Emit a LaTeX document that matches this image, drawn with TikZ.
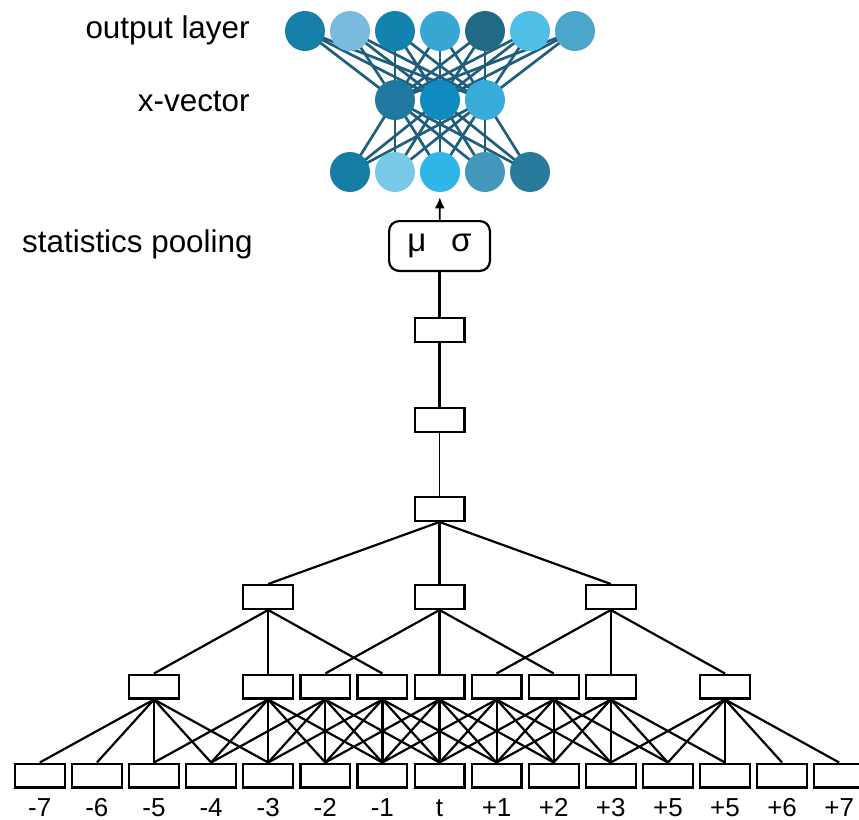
\documentclass[tikz,border=0pt]{standalone}
\usepackage{fontspec}
\setmainfont{Liberation Sans}
\usepackage{tikz}
\usetikzlibrary{arrows.meta,positioning,backgrounds}
\definecolor{synblue}{HTML}{1F5E7D}
\definecolor{oc1}{HTML}{177EA8}
\definecolor{oc2}{HTML}{7ABADE}
\definecolor{oc3}{HTML}{1482AF}
\definecolor{oc4}{HTML}{37A6D3}
\definecolor{oc5}{HTML}{216A86}
\definecolor{oc6}{HTML}{50BFE7}
\definecolor{oc7}{HTML}{4CA6C9}
\definecolor{xc1}{HTML}{1E78A0}
\definecolor{xc2}{HTML}{108BBF}
\definecolor{xc3}{HTML}{38ABDB}
\definecolor{bc1}{HTML}{167DA7}
\definecolor{bc2}{HTML}{78C9E8}
\definecolor{bc3}{HTML}{2FB5E7}
\definecolor{bc4}{HTML}{4297BA}
\definecolor{bc5}{HTML}{297B9C}

\begin{document}
\begin{tikzpicture}[
    x=0.5pt, y=-0.5pt,
    every node/.style={font=\fontsize{15.7}{18}\selectfont},
    frame/.style={draw, line width=1.1pt, minimum width=24.9pt, minimum height=11.9pt, inner sep=0pt},
    pooling/.style={draw, line width=1.1pt, rounded corners=5pt, minimum width=50.4pt, minimum height=24.9pt, inner sep=0pt},
    neuron/.style={circle, minimum size=20pt, inner sep=0pt},
    tap/.style={line width=1.1pt},
    synapse/.style={draw=synblue, line width=1.35pt},
    tick/.style={anchor=base, inner sep=0pt, font=\fontsize{13}{15}\selectfont},
    side/.style={anchor=base east, inner sep=0pt}
]
\useasboundingbox (0,0) rectangle (859,820);

% Input frames
\foreach \i/\t in {1/-7,2/-6,3/-5,4/-4,5/-3,6/-2,7/-1,8/t,9/+1,10/+2,11/+3,12/+5,13/+5,14/+6,15/+7} {
    \node (in\i) [frame] at ({439.5+(\i-8)*57.1},775.5) {};
    \node (lab\i) [tick] at ({439.5+(\i-8)*57.1},816) {\t};
}

% First layer (context -2..+2)
\foreach \i in {3,5,6,7,8,9,10,11,13} {
    \node (h\i) [frame] at ({439.5+(\i-8)*57.1},686.5) {};
    \foreach \d in {-2,...,2} {
        \pgfmathtruncatemacro\j{\i+\d}
        \draw [tap] (h\i.south) -- (in\j.north);
    }
}

% Second layer (context -2,0,+2)
\foreach \i in {5,8,11} {
    \node (g\i) [frame] at ({439.5+(\i-8)*57.1},597) {};
    \foreach \d in {-2,0,2} {
        \pgfmathtruncatemacro\j{\i+\d}
        \draw [tap] (g\i.south) -- (h\j.north);
    }
}

% Frame-level stack
\node (s1) [frame] at (439.5,509) {};
\node (s2) [frame] at (439.5,420) {};
\node (s3) [frame] at (439.5,330) {};
\foreach \i in {5,8,11}
    \draw [tap] (s1.south) -- (g\i.north);
\draw [line width=0.9pt] (s1) -- (s2);
\draw [line width=1.4pt] (s2) -- (s3);

% Pooling
\node (pool) [pooling, font=\fontsize{16.5}{18}\selectfont] at (439.5,246) {μ\hspace{0.75em}σ};
\draw [line width=1.4pt] (s3) -- (pool);

% Segment-level network
\foreach \i/\c in {1/bc1,2/bc2,3/bc3,4/bc4,5/bc5}
    \node (b\i) [neuron, fill=\c] at ({305+45*\i},172) {};
\foreach \i/\c in {1/xc1,2/xc2,3/xc3}
    \node (v\i) [neuron, fill=\c] at ({350+45*\i},100) {};
\foreach \i/\c in {1/oc1,2/oc2,3/oc3,4/oc4,5/oc5,6/oc6,7/oc7}
    \node (o\i) [neuron, fill=\c] at ({260+45*\i},31) {};
\begin{scope}[on background layer]
    \foreach \j in {1,2,3} {
        \foreach \i in {1,...,5} \draw [synapse] (b\i.center) -- (v\j.center);
        \foreach \i in {1,...,7} \draw [synapse] (o\i.center) -- (v\j.center);
    }
\end{scope}
\draw [-{Latex[length=5.5pt,width=5pt]}, line width=0.85pt, shorten >=2.5pt] (pool) -- (b3);

% Layer names
\node (outlab) [side] at (250,38) {output layer};
\node (xveclab) [side] at (250,111) {x-vector};
\node (poollab) [side] at (253,252) {statistics pooling};
\end{tikzpicture}
\end{document}
